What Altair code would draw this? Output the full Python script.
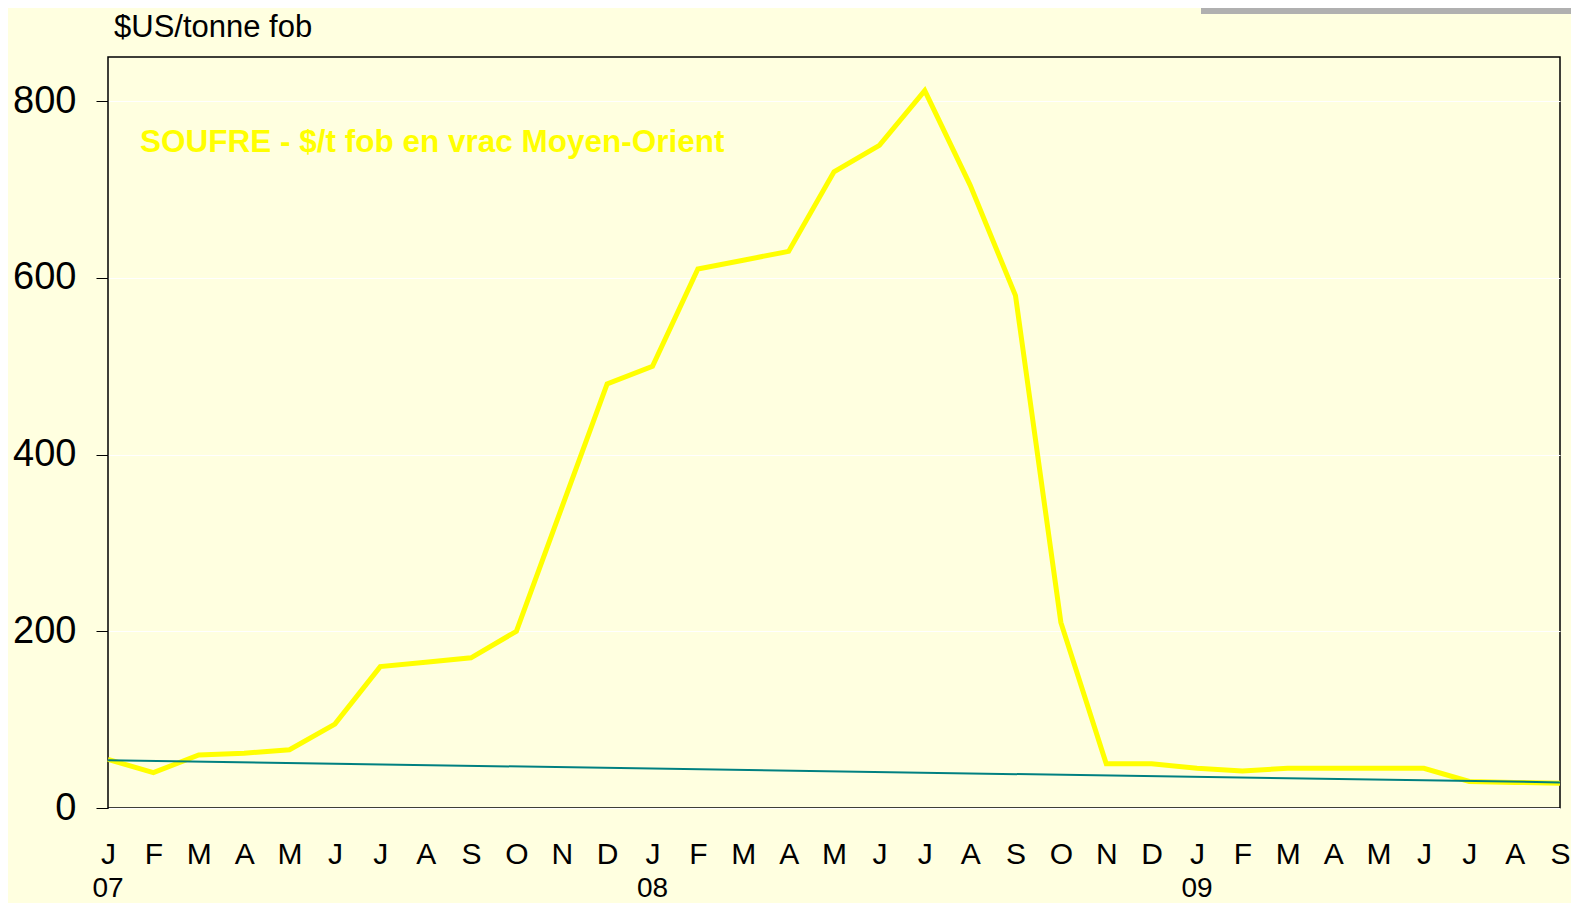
import altair as alt
import pandas as pd

# ---- data ----
month_labels = ["J", "F", "M", "A", "M", "J", "J", "A", "S", "O", "N", "D",
                "J", "F", "M", "A", "M", "J", "J", "A", "S", "O", "N", "D",
                "J", "F", "M", "A", "M", "J", "J", "A", "S"]
year_labels = ["07", "08", "09"]
year_index = [0, 12, 24]
prices = [55, 40, 60, 62, 66, 95, 160, 165, 170, 200, 340, 480,
          500, 610, 620, 630, 720, 750, 812, 705, 580, 210, 50, 50,
          45, 42, 45, 45, 45, 45, 30, 29, 28]
trend_index = [0, 32]
trend_values = [54, 29]
y_ticks = [0, 200, 400, 600, 800]
unit_title = "$US/tonne fob"
series_label = "SOUFRE - $/t fob en vrac Moyen-Orient"

W, H = 1452, 751
FONT = "Liberation Sans"
BG = "#FFFFE0"

df = pd.DataFrame({"i": list(range(len(prices))), "price": prices})
trend_df = pd.DataFrame({"i": trend_index, "v": trend_values})
year_df = pd.DataFrame({"i": year_index, "lab": year_labels})

label_expr = "[" + ",".join("'%s'" % m for m in month_labels) + "][datum.value]"

x_scale = alt.Scale(domain=[0, len(prices) - 1], nice=False, zero=False)
y_scale = alt.Scale(domain=[0, 850], nice=False)

x_axis = alt.Axis(values=list(range(len(prices))), labelExpr=label_expr,
                  ticks=False, domain=False, grid=False, title=None,
                  labelFontSize=30, labelFont=FONT, labelColor="#000000",
                  labelPadding=31, labelFlush=False, labelOverlap=False,
                  labelBound=False)
y_axis = alt.Axis(values=y_ticks, ticks=True, tickSize=12, tickColor="#000000",
                  tickWidth=1, domain=False, grid=True, gridColor="#FFFFFF",
                  gridWidth=1, title=None, labelFontSize=38, labelFont=FONT,
                  labelColor="#000000", labelPadding=20)

base = alt.Chart(df)

line = base.mark_line(color="#FFFF00", strokeWidth=5, strokeJoin="miter").encode(
    x=alt.X("i:Q", scale=x_scale, axis=x_axis),
    y=alt.Y("price:Q", scale=y_scale, axis=y_axis),
)

trend = alt.Chart(trend_df).mark_line(color="#008080", strokeWidth=2).encode(
    x=alt.X("i:Q", scale=x_scale),
    y=alt.Y("v:Q", scale=y_scale),
)

years = alt.Chart(year_df).mark_text(
    fontSize=28, font=FONT, color="#000000", align="center", baseline="alphabetic"
).encode(
    x=alt.X("i:Q", scale=x_scale),
    y=alt.value(840),
    text="lab:N",
)

title_txt = alt.Chart(pd.DataFrame({"t": [unit_title]})).mark_text(
    fontSize=31, font=FONT, color="#000000", align="left", baseline="middle"
).encode(x=alt.value(6), y=alt.value(-29), text="t:N")

series_txt = alt.Chart(pd.DataFrame({"t": [series_label]})).mark_text(
    fontSize=31.5, font=FONT, fontWeight="bold", color="#FFFF00",
    align="left", baseline="middle"
).encode(x=alt.value(32), y=alt.value(86), text="t:N")

grey_bar = alt.Chart(pd.DataFrame({"k": [0]})).mark_rect(color="#B0B0B0").encode(
    x=alt.value(1093), x2=alt.value(1463), y=alt.value(-49), y2=alt.value(-43)
)

chart = alt.layer(line, trend, years, title_txt, series_txt, grey_bar).properties(
    width=W, height=H,
    background=BG,
    autosize=alt.AutoSizeParams(type="none"),
    padding={"left": 100, "top": 49, "right": 11, "bottom": 95},
).configure_view(stroke="#000000", strokeWidth=1.5, fill=BG)

chart.save("out.html", embed_options={"renderer": "svg", "actions": False})
